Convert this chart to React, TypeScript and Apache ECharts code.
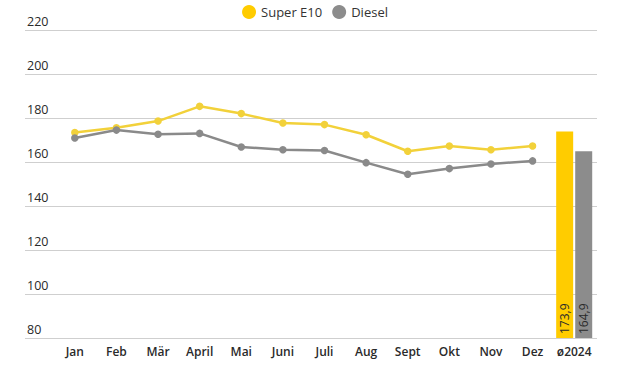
import React, { useEffect, useRef } from "react";
import * as echarts from "echarts";

const categories = ["Jan", "Feb", "Mär", "April", "Mai", "Juni", "Juli", "Aug", "Sept", "Okt", "Nov", "Dez", "ø2024"];
const superE10 = [173.4, 175.6, 178.6, 185.3, 182.0, 177.7, 177.0, 172.4, 164.9, 167.3, 165.6, 167.3];
const diesel = [170.9, 174.5, 172.6, 173.0, 166.8, 165.6, 165.2, 159.7, 154.4, 157.0, 159.1, 160.5];
const avgSuper = 173.9;
const avgDiesel = 164.9;
const yTicks = { min: 80, max: 220, interval: 20 };

const YELLOW_LINE = "#F2D13A";
const YELLOW_BAR = "#FFCC00";
const GREY_LINE = "#8A8A8A";
const GREY_BAR = "#8C8C8C";
const FONT = "'Open Sans', sans-serif";

export default function App() {
  const ref = useRef<HTMLDivElement>(null);
  useEffect(() => {
    if (!ref.current) return;
    const chart = echarts.init(ref.current, undefined, { renderer: "svg" });
    const n = categories.length;
    const lineData = (arr: number[]) => [...arr, ...Array(n - arr.length).fill(null)];
    const barData = (v: number) => [...Array(n - 1).fill(null), v];
    const fmt = (p: any) => (p.value == null ? "" : String(p.value).replace(".", ","));
    const barLabel = {
      show: true,
      position: "insideBottom",
      rotate: 90,
      align: "left",
      verticalAlign: "middle",
      distance: 4,
      color: "#2a2a2a",
      fontSize: 12,
      fontFamily: FONT,
      formatter: fmt,
    };
    chart.setOption({
      animation: false,
      textStyle: { fontFamily: FONT },
      legend: {
        top: 0,
        left: "center",
        icon: "circle",
        itemWidth: 14,
        itemHeight: 14,
        itemGap: 10,
        textStyle: { fontSize: 13, color: "#333", fontFamily: FONT },
        data: [
          { name: "Super E10", itemStyle: { color: YELLOW_BAR } },
          { name: "Diesel", itemStyle: { color: GREY_BAR } },
        ],
      },
      grid: [
        { left: 25, right: 33, top: 30, bottom: 43 },
        { left: 54, right: 35, top: 30, bottom: 43 },
      ],
      xAxis: [
        { type: "value", gridIndex: 0, show: false, min: 0, max: 1 },
        {
          type: "category",
          gridIndex: 1,
          data: categories,
          axisLine: { show: false },
          axisTick: { show: false },
          axisLabel: { color: "#2a2a2a", fontSize: 12, fontWeight: 600, margin: 7, fontFamily: FONT, interval: 0 },
        },
      ],
      yAxis: [
        {
          type: "value",
          gridIndex: 0,
          min: yTicks.min,
          max: yTicks.max,
          interval: yTicks.interval,
          axisLine: { show: false },
          axisTick: { show: false },
          splitLine: { lineStyle: { color: "#cfcfcf", width: 1 } },
          axisLabel: {
            inside: true,
            margin: 2,
            verticalAlign: "bottom",
            padding: [0, 0, 2, 0],
            color: "#2a2a2a",
            fontSize: 12.5,
            fontFamily: FONT,
          },
        },
        {
          type: "value",
          gridIndex: 1,
          min: yTicks.min,
          max: yTicks.max,
          interval: yTicks.interval,
          show: false,
          splitLine: { show: false },
        },
      ],
      series: [
        {
          name: "Super E10",
          type: "line",
          xAxisIndex: 1,
          yAxisIndex: 1,
          data: lineData(superE10),
          symbol: "circle",
          symbolSize: 7.5,
          lineStyle: { color: YELLOW_LINE, width: 2.5 },
          itemStyle: { color: YELLOW_LINE },
          z: 3,
        },
        {
          name: "Diesel",
          type: "line",
          xAxisIndex: 1,
          yAxisIndex: 1,
          data: lineData(diesel),
          symbol: "circle",
          symbolSize: 7.5,
          lineStyle: { color: GREY_LINE, width: 2.5 },
          itemStyle: { color: GREY_LINE },
          z: 3,
        },
        {
          name: "Super E10",
          type: "bar",
          xAxisIndex: 1,
          yAxisIndex: 1,
          data: barData(avgSuper),
          barWidth: 17,
          barGap: "12%",
          itemStyle: { color: YELLOW_BAR },
          label: barLabel,
        },
        {
          name: "Diesel",
          type: "bar",
          xAxisIndex: 1,
          yAxisIndex: 1,
          data: barData(avgDiesel),
          barWidth: 17,
          barGap: "12%",
          itemStyle: { color: GREY_BAR },
          label: barLabel,
        },
      ],
    });
    return () => chart.dispose();
  }, []);
  return <div ref={ref} style={{ width: 630, height: 381, position: "absolute", left: 0, top: 0 }} />;
}
